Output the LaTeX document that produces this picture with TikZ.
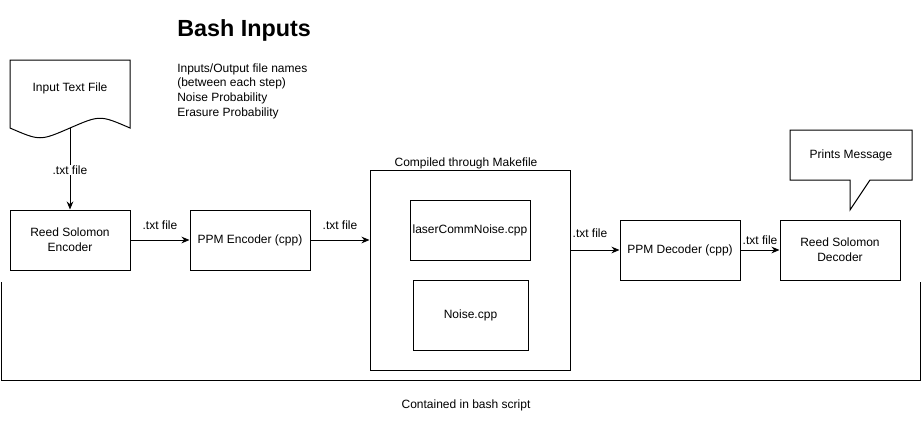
\documentclass[tikz,border=0pt]{standalone}
\usepackage{fontspec}
\setmainfont{Liberation Sans}
\usetikzlibrary{arrows.meta}
\tikzset{
  box/.style={draw, line width=0.75pt, minimum width=90pt, minimum height=45pt, align=center, inner sep=0.75pt, font=\fontsize{9}{11}\selectfont},
  lbl/.style={inner sep=0.75pt, font=\fontsize{9}{11}\selectfont},
  arr/.style={-{Stealth[length=6pt,width=5pt]}, line width=0.75pt}
}
\begin{document}
\begin{tikzpicture}[x=0.75pt,y=0.75pt,yscale=-1,xscale=1]
\useasboundingbox (0,0) rectangle (922,421);

\draw[line width=0.75pt] (10,60) -- (130,60) -- (130,128) .. controls (100,115) and (100,115) .. (70,128) .. controls (40,141) and (40,141) .. (10,128) -- cycle;
\coordinate (docbot) at (70,128);
\draw (70,88) node [lbl] (intext) {Input Text File};

\draw (176,30) node [anchor=west][inner sep=0.75pt][font=\fontsize{17.5}{20}\selectfont\bfseries] (bash) {Bash Inputs};
\draw (176,62.5) node [anchor=north west][inner sep=0.75pt][align=left][font=\fontsize{9}{10.9}\selectfont] (bashlist) {Inputs/Output file names\\(between each step)\\Noise Probability\\Erasure Probability};

\draw (70,240) node [box] (rsenc) {Reed Solomon\\Encoder};
\draw (250,240) node [box] (ppmenc) {PPM Encoder (cpp)};
\draw (470,270) node [box, minimum width=150pt, minimum height=150pt] (make) {};
\draw (470,230) node [box] (lcn) {laserCommNoise.cpp};
\draw (470.5,315) node [box, minimum width=86.25pt, minimum height=52.5pt] (noise) {Noise.cpp};
\draw (680,250) node [box] (ppmdec) {PPM Decoder (cpp)};
\draw (840,250) node [box] (rsdec) {Reed Solomon\\Decoder};

\draw (466,163) node [lbl] (makelbl) {Compiled through Makefile};

\draw[line width=0.75pt] (790,130) -- (912,130) -- (912,180) -- (870,180) -- (850,210) -- (850,180) -- (790,180) -- cycle;
\draw (851,155) node [lbl] (prints) {Prints Message};

\draw[arr] (docbot) -- (rsenc.north);
\draw[arr] (rsenc.east) -- (ppmenc.west);
\draw[arr] (ppmenc.east) -- (ppmenc.east -| make.west);
\draw[arr] (make.east |- ppmdec) -- (ppmdec.west);
\draw[arr] (ppmdec.east) -- (rsdec.west);

\draw (70,170) node [lbl, fill=white] (txta) {.txt file};
\draw (160,225) node [lbl] (txtb) {.txt file};
\draw (340,225) node [lbl] (txtc) {.txt file};
\draw (590,233) node [lbl] (txtd) {.txt file};
\draw (760,240) node [lbl] (txte) {.txt file};

\draw[line width=0.75pt] (1,282) -- (1,380) -- (920,380) -- (920,282);
\draw (466,405) node [lbl] (bashlbl) {Contained in bash script};

\end{tikzpicture}
\end{document}
